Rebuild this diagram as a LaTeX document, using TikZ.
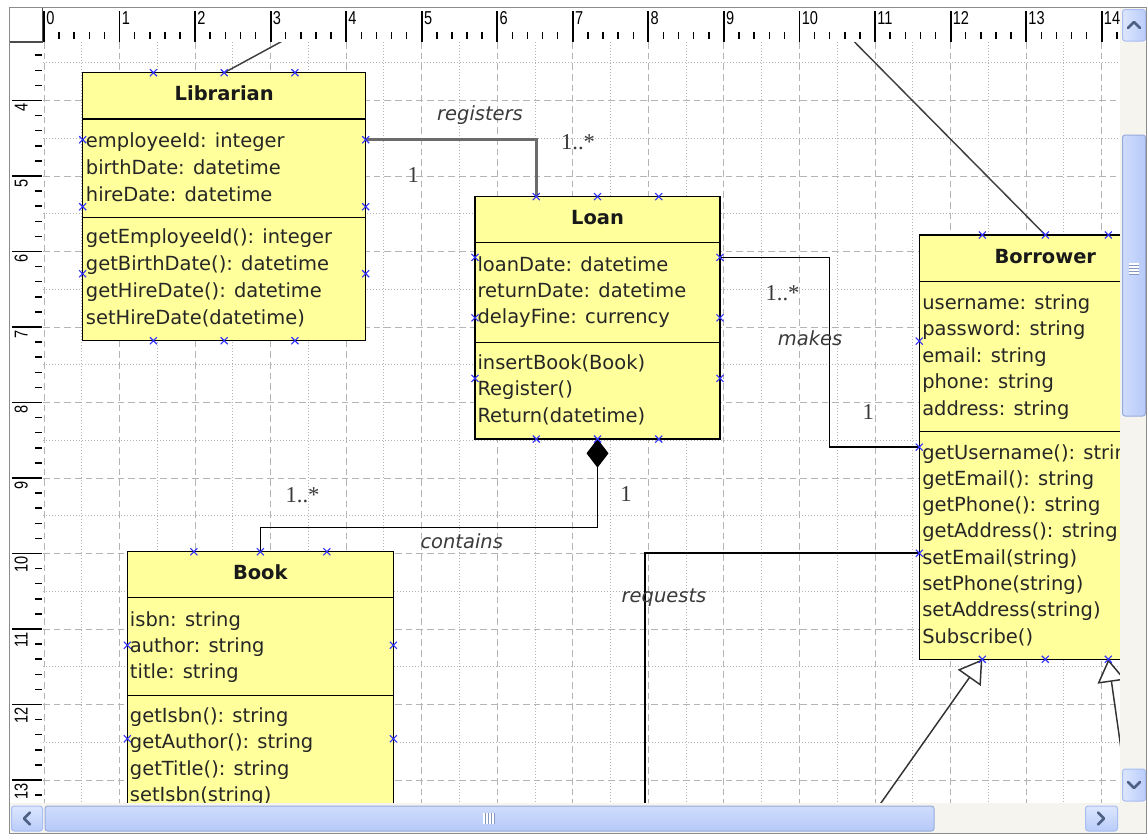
\documentclass[tikz,border=0pt]{standalone}
\usepackage{fontspec}
\newfontfamily\uifont{DejaVu Sans}
\newfontfamily\serfont{Liberation Serif}
\newfontfamily\rulerfont{Liberation Sans}
\usetikzlibrary{arrows.meta,calc}
\definecolor{boxyellow}{HTML}{FFFF9C}
\definecolor{gridgray}{HTML}{B4B4B4}
\definecolor{labelgray}{HTML}{3A3A3A}
\definecolor{markblue}{HTML}{3030FF}
\definecolor{sbtrack}{HTML}{F5F4EF}
\definecolor{sbbtnA}{HTML}{DCE6FE}
\definecolor{sbbtnB}{HTML}{B9CCF9}
\definecolor{sbborder}{HTML}{A8BDF2}
\definecolor{sbarrow}{HTML}{4D6185}
\definecolor{sbthumbA}{HTML}{CFDCFD}
\definecolor{sbthumbB}{HTML}{B6C9F7}
\tikzset{
  xmark/.pic={\draw[draw=markblue, line width=0.8pt] (-3.5,-3.5) -- (3.5,3.5) (-3.5,3.5) -- (3.5,-3.5);}
}
\newcommand\boxmarks[1]{%
  \foreach \f in {0.25,0.5,0.75}{%
    \path ($(#1.north west)!\f!(#1.north east)$) pic {xmark};
    \path ($(#1.south west)!\f!(#1.south east)$) pic {xmark};
    \path ($(#1.north west)!\f!(#1.south west)$) pic {xmark};
    \path ($(#1.north east)!\f!(#1.south east)$) pic {xmark};
  }}
\newcommand\rnum[1]{\scalebox{0.78}[1]{#1}}
\begin{document}
\begin{tikzpicture}[x=0.75pt,y=-0.75pt,
  classbox/.style={draw=black, line width=1.1pt, fill=boxyellow, inner sep=0pt, outer sep=0pt, anchor=north west},
  divider/.style={draw=black, line width=1.1pt},
  member/.style={anchor=base west, inner sep=0pt, font=\uifont\fontsize{14.6}{17}\selectfont, text=black!85},
  ctitle/.style={inner sep=0pt, text height=0.73em, text depth=0pt, font=\uifont\bfseries\fontsize{14.6}{17}\selectfont, text=black!90},
  role/.style={inner sep=0pt, font=\uifont\itshape\fontsize{14.6}{17}\selectfont, text=labelgray},
  mult/.style={inner sep=0pt, font=\serfont\fontsize{17}{19}\selectfont, text=labelgray},
  assoc/.style={draw=black, line width=1.1pt},
  regline/.style={draw=black!58, line width=1.9pt},
  thinline/.style={draw=black!75, line width=1.1pt},
  genline/.style={draw=black!80, line width=1.1pt, -{Triangle[open, length=17pt, width=21pt, fill=white]}},
  gridmajor/.style={draw=gridgray, line width=0.75pt, dash pattern=on 5pt off 3pt},
  gridminor/.style={draw=gridgray, line width=0.75pt, dash pattern=on 0.75pt off 1.5pt},
  rulerlab/.style={inner sep=0pt, font=\rulerfont\fontsize{14}{16}\selectfont, text=black},
  sbbutton/.style={draw=sbborder, top color=sbbtnA, bottom color=sbbtnB, rounded corners=2pt, line width=0.75pt},
  sbbuttonv/.style={draw=sbborder, left color=sbbtnA, right color=sbbtnB, rounded corners=2pt, line width=0.75pt},
  sbthumbh/.style={draw=sbborder!90!black, top color=sbthumbA, bottom color=sbthumbB, rounded corners=2pt, line width=0.75pt},
  sbthumbv/.style={draw=sbborder!90!black, left color=sbthumbA, right color=sbthumbB, rounded corners=2pt, line width=0.75pt},
  sbchev/.style={draw=sbarrow, line width=1.9pt, line cap=round, line join=round}
]
\useasboundingbox (0,0) rectangle (1147,836);
\fill[white] (0,0) rectangle (1147,836);

% ---------- grid ----------
\begin{scope}
\clip (43,42) rectangle (1120,803);
\foreach \n in {0,...,14}{
  \draw[gridmajor] ({44+75.55*\n},42) -- ({44+75.55*\n},803);
  \draw[gridminor] ({44+75.55*(\n+0.5)},42) -- ({44+75.55*(\n+0.5)},803);
}
\foreach \n in {3,...,13}{
  \draw[gridmajor] (43,{176+75.5*(\n-5)}) -- (1120,{176+75.5*(\n-5)});
  \draw[gridminor] (43,{176+75.5*(\n-4.5)}) -- (1120,{176+75.5*(\n-4.5)});
}
\end{scope}

% ---------- diagram ----------
\begin{scope}
\clip (43,42) rectangle (1120,803);
% boxes
\node[classbox, minimum width=283*0.75pt, minimum height=268*0.75pt] (lib) at (82.7,72.7) {};
\node[classbox, minimum width=245*0.75pt, minimum height=242.3*0.75pt] (loan) at (475,196.7) {};
\node[classbox, minimum width=252*0.75pt, minimum height=424.3*0.75pt] (borrower) at (919.3,235) {};
\node[classbox, minimum width=266*0.75pt, minimum height=374*0.75pt] (book) at (127.3,551.7) {};
\draw[divider] (82.7,119) -- (365.7,119) (82.7,217.3) -- (365.7,217.3);
\draw[divider] (475,242.7) -- (720,242.7) (475,342.3) -- (720,342.3);
\draw[divider] (919.3,281.7) -- (1171.3,281.7) (919.3,431.7) -- (1171.3,431.7);
\draw[divider] (127.3,597.3) -- (393.3,597.3) (127.3,695.7) -- (393.3,695.7);

% titles
\node[ctitle] (libT) at (224.2,95.9) {Librarian};
\node[ctitle] (loanT) at (597.5,219.7) {Loan};
\node[ctitle] (brwT) at (1045.3,258.3) {Borrower};
\node[ctitle] (bookT) at (260.3,574.5) {Book};

% members
\foreach \txt [count=\i from 0] in {employeeId: integer, birthDate: datetime, hireDate: datetime}
  \node[member] (libA\i) at (85.7,{147+27*\i}) {\txt};
\foreach \txt [count=\i from 0] in {getEmployeeId(): integer, getBirthDate(): datetime, getHireDate(): datetime, setHireDate(datetime)}
  \node[member] (libM\i) at (85.7,{243+27*\i}) {\txt};
\foreach \txt [count=\i from 0] in {loanDate: datetime, returnDate: datetime, delayFine: currency}
  \node[member] (loanA\i) at (477.3,{271+26.3*\i}) {\txt};
\foreach \txt [count=\i from 0] in {insertBook(Book), Register(), Return(datetime)}
  \node[member] (loanM\i) at (477.3,{369+26.5*\i}) {\txt};
\foreach \txt [count=\i from 0] in {username: string, password: string, email: string, phone: string, address: string}
  \node[member] (brwA\i) at (922,{309+26.5*\i}) {\txt};
\foreach \txt [count=\i from 0] in {getUsername(): string, getEmail(): string, getPhone(): string, getAddress(): string, setEmail(string), setPhone(string), setAddress(string), Subscribe()}
  \node[member] (brwM\i) at (922,{459+26.3*\i}) {\txt};
\foreach \txt [count=\i from 0] in {isbn: string, author: string, title: string}
  \node[member] (bookA\i) at (129.7,{626+26.3*\i}) {\txt};
\foreach \txt [count=\i from 0] in {getIsbn(): string, getAuthor(): string, getTitle(): string, setIsbn(string)}
  \node[member] (bookM\i) at (129.7,{722.7+26.2*\i}) {\txt};

% connectors
\coordinate (libR1) at ($(lib.north east)!0.25!(lib.south east)$);
\coordinate (loanT1) at ($(loan.north west)!0.25!(loan.north east)$);
\coordinate (loanR1) at ($(loan.north east)!0.25!(loan.south east)$);
\coordinate (brwL2) at ($(borrower.north west)!0.5!(borrower.south west)$);
\coordinate (brwL3) at ($(borrower.north west)!0.75!(borrower.south west)$);
\coordinate (brwB1) at ($(borrower.south west)!0.25!(borrower.south east)$);
\coordinate (brwB3) at ($(borrower.south west)!0.75!(borrower.south east)$);
\coordinate (mkx) at (829.3,300);
\coordinate (cty) at (600,527.7);
\coordinate (rqend) at (645,830);
\coordinate (gen1) at (876,810);
\coordinate (gen2) at (1129,805);
\coordinate (libup) at (288,38);
\coordinate (brwup) at (850.6,38);

\draw[thinline] (lib.north) -- (libup);
\draw[thinline] (borrower.north) -- (brwup);
\draw[regline] (libR1) -| (loanT1);
\draw[assoc] (loanR1) -- (loanR1 -| mkx) -- (mkx |- brwL2) -- (brwL2);
\draw[assoc, {Diamond[length=21.5pt,width=16.5pt,fill=black]}-] (loan.south) -- (loan.south |- cty) -| (book.north);
\draw[assoc] (brwL3) -| (rqend);
\draw[genline] (gen1) -- (brwB1);
\draw[genline] (gen2) -- (brwB3);

% connection markers
\boxmarks{lib}
\boxmarks{loan}
\boxmarks{borrower}
\boxmarks{book}

% labels
\node[role] (lbReg) at (480,115) {registers};
\node[role] (lbMakes) at (810,338) {makes};
\node[role] (lbCont) at (461.7,541.7) {contains};
\node[role] (lbReq) at (664,598) {requests};
\node[mult] (m1) at (578,141.7) {1..*};
\node[mult] (m2) at (413.3,175) {1};
\node[mult] (m3) at (782.5,292.7) {1..*};
\node[mult] (m4) at (868.3,412.3) {1};
\node[mult] (m5) at (302.5,495) {1..*};
\node[mult] (m6) at (626,494.3) {1};
\end{scope}

% ---------- top ruler ----------
\fill[white] (9,7) rectangle (1120,42);
\begin{scope}
\clip (43,7) rectangle (1120,42);
\foreach \n in {0,...,14}{
  \draw[line width=1.4pt] ({44+75.55*\n},11) -- ({44+75.55*\n},42);
  \foreach \m in {1,2,3,4}
    \draw[line width=1.1pt] ({44+75.55*\n+15.11*\m},32) -- ({44+75.55*\n+15.11*\m},39);
  \node[rulerlab, anchor=north west] (rt\n) at ({44+75.55*\n+2},11.5) {\rnum{\n}};
}
\end{scope}

% ---------- left ruler ----------
\fill[white] (9,42) rectangle (42.5,803);
\begin{scope}
\clip (9,42) rectangle (43,803);
\foreach \n in {3,...,13}{
  \draw[line width=1.4pt] (12,{176+75.5*(\n-5)}) -- (42,{176+75.5*(\n-5)});
  \foreach \m in {1,2,3,4}
    \draw[line width=1.1pt] (35,{176+75.5*(\n-5)+15.1*\m}) -- (42,{176+75.5*(\n-5)+15.1*\m});
}
\foreach \n in {4,...,13}
  \node[rulerlab, rotate=90, anchor=south east] (rl\n) at (28,{176+75.5*(\n-5)+3}) {\rnum{\n}};
\end{scope}

% corner box
\draw[draw=black!70, line width=0.9pt, fill=white] (9.5,7.5) rectangle (42.5,42);

% ---------- scrollbars ----------
\fill[sbtrack] (1120,7) rectangle (1147,833);
\fill[sbtrack] (9,803) rectangle (1147,833);
\draw[sbbuttonv] (1122.5,9.5) rectangle (1145.5,41);
\draw[sbchev] (1128,28) -- (1134,22) -- (1140,28);
\draw[sbthumbv] (1122.5,135) rectangle (1145.5,416);
\foreach \g in {0,...,3}
  \draw[draw=white, line width=0.8pt] (1129,{264+3*\g}) -- (1139,{264+3*\g});
\foreach \g in {0,...,3}
  \draw[draw=sbborder!80!black, line width=0.5pt] (1129,{265.2+3*\g}) -- (1139,{265.2+3*\g});
\draw[sbbuttonv] (1122.5,769) rectangle (1145.5,801);
\draw[sbchev] (1128,782) -- (1134,788) -- (1140,782);

\draw[sbbutton] (11.5,806) rectangle (42.5,831);
\draw[sbchev] (30,812.5) -- (24,818.5) -- (30,824.5);
\draw[sbthumbh] (45,806) rectangle (934,831);
\foreach \g in {0,...,3}
  \draw[draw=white, line width=0.8pt] ({484+3*\g},813) -- ({484+3*\g},824);
\foreach \g in {0,...,3}
  \draw[draw=sbborder!80!black, line width=0.5pt] ({485.2+3*\g},813) -- ({485.2+3*\g},824);
\draw[sbbutton] (1085.5,806) rectangle (1117.5,831);
\draw[sbchev] (1098,812.5) -- (1104,818.5) -- (1098,824.5);

% frame
\draw[draw=black!45, line width=0.75pt] (9.5,7.5) rectangle (1146.6,833.5);
\end{tikzpicture}
\end{document}
